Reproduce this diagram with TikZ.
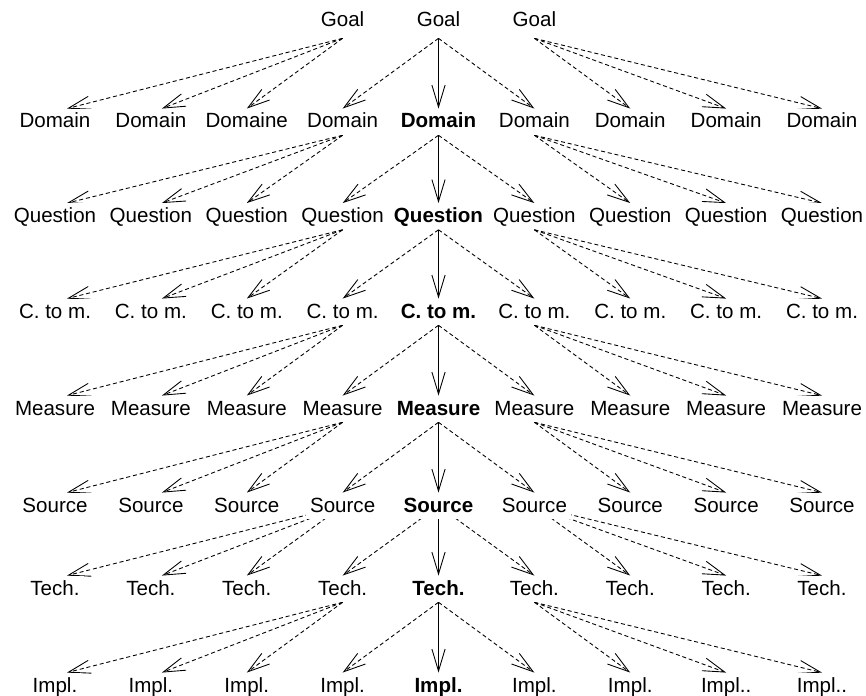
\documentclass[tikz,border=0pt]{standalone}
\usepackage{fontspec}
\setmainfont{Liberation Sans}
\usetikzlibrary{arrows.meta,backgrounds}
\begin{document}
\begin{tikzpicture}[x=0.02cm,y=-0.02cm,
    lbl/.style={font=\fontsize{11.7}{14}\selectfont,anchor=base,fill=white,
      text height=8pt,text depth=1.1pt,inner xsep=2.3pt,inner ysep=2.85pt},
    goal/.style={lbl,text depth=3.4pt},
    link/.style={-{Straight Barb[length=12.5pt,width=7.5pt]},line width=0.5pt},
    alt/.style={link,dash pattern=on 2.3pt off 1.6pt}]
  \useasboundingbox (0,0) rectangle (866,696);
  % goals
  \foreach \c/\x in {4/342.6,5/438.5,6/534.4}
    \node[goal] (r0c\c) at (\x,27) {Goal};
  % levels
  \foreach \r/\y/\t in {1/128/Domain,2/222.5/Question,3/318/C. to m.,4/415/Measure,5/512/Source,6/595/Tech.,7/692/Impl.}{
    \foreach \c in {1,...,9}{
      \pgfmathsetmacro\x{55+95.875*(\c-1)}
      \def\lab{\t}
      \ifnum\r\c=13 \def\lab{Domaine}\fi
      \ifnum\r\c>77 \def\lab{Impl..}\fi
      \node[lbl] (r\r c\c) at (\x,\y) {\ifnum\c=5 \bfseries\fi\lab};
    }
  }
  % arrows
  \begin{scope}[on background layer]
    \foreach \r [count=\p from 0] in {1,...,7}{
      \ifnum\r=6 \def\from{center}\else\def\from{south}\fi
      \foreach \c/\s in {1/12,2/11,3/0}
        \draw[alt] (r\p c4.\from) -- ([xshift=\s*0.02cm]r\r c\c.north);
      \draw[alt] (r\p c5.\from) -- (r\r c4.north);
      \draw[link] (r\p c5.\from) -- (r\r c5.north);
      \draw[alt] (r\p c5.\from) -- (r\r c6.north);
      \foreach \c in {7,8,9}
        \draw[alt] (r\p c6.\from) -- (r\r c\c.north);
    }
  \end{scope}
\end{tikzpicture}
\end{document}
